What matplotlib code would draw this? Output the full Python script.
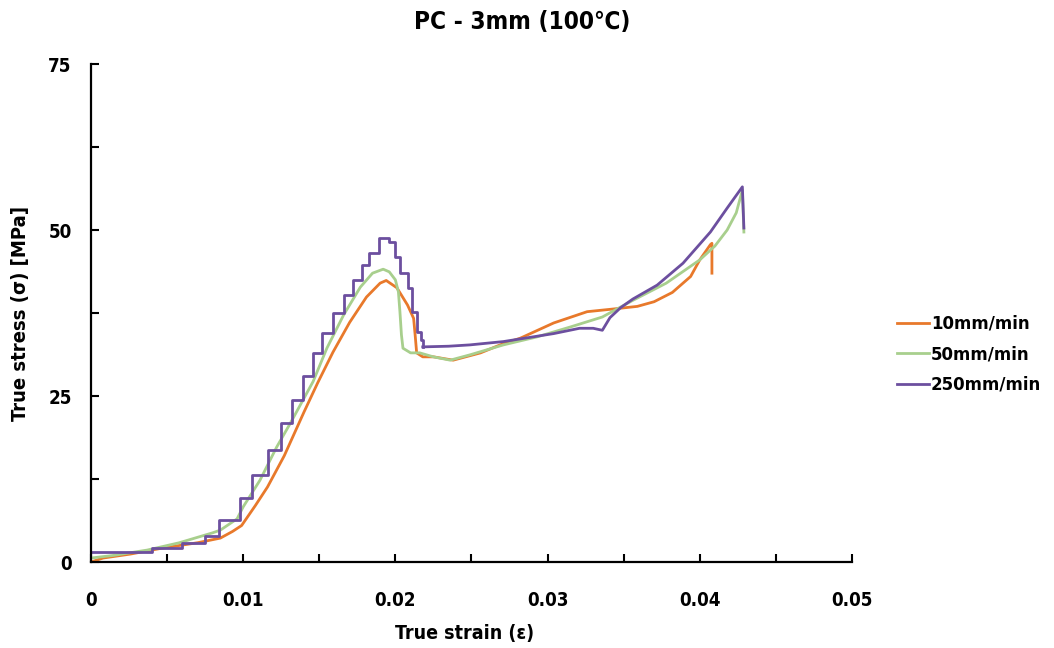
import numpy as np
import matplotlib
matplotlib.use("Agg")
import matplotlib.pyplot as plt

# condensed bold face for title, axis titles and tick labels
narrow = dict(family=['Liberation Sans Narrow', 'DejaVu Sans'], fontstretch='condensed',
              fontweight='bold')

# 10mm/min (orange)
x10 = [0, 0.0008, 0.0026, 0.0047, 0.0070, 0.0085, 0.0093, 0.0099, 0.0108, 0.0116,
       0.0127, 0.0140, 0.0149, 0.0159, 0.0170, 0.0181, 0.0190, 0.0194, 0.0201, 0.0208,
       0.0212, 0.0213, 0.0214, 0.0218, 0.0225, 0.0238, 0.0256, 0.0271, 0.0282, 0.0304,
       0.0326, 0.0343, 0.0359, 0.0370, 0.0382, 0.0394, 0.0400, 0.0407, 0.0408, 0.0408]
y10 = [0, 0.6, 1.2, 2.1, 2.9, 3.6, 4.6, 5.5, 8.5, 11.3,
       16.0, 22.6, 27.0, 31.6, 36.1, 39.9, 42.0, 42.4, 41.3, 38.7,
       36.7, 34.2, 31.5, 30.9, 30.9, 30.4, 31.5, 32.9, 33.7, 36.0,
       37.7, 38.1, 38.5, 39.2, 40.6, 43.0, 45.5, 47.8, 48.0, 43.5]

# 50mm/min (green)
x50 = [0, 0.0015, 0.0037, 0.0058, 0.0080, 0.0085, 0.0096, 0.0100, 0.0111, 0.0122,
       0.0131, 0.0146, 0.0155, 0.0166, 0.0177, 0.0185, 0.0192, 0.0196, 0.0200, 0.0202,
       0.0203, 0.0204, 0.0205, 0.0210, 0.0216, 0.0225, 0.0236, 0.0249, 0.0271, 0.0293,
       0.0315, 0.0336, 0.0356, 0.0378, 0.0400, 0.0410, 0.0418, 0.0424, 0.0428, 0.0429]
y50 = [0.6, 1.0, 1.8, 2.9, 4.4, 4.8, 6.5, 8.3, 12.3, 17.3,
       20.9, 27.2, 32.2, 37.2, 41.4, 43.5, 44.1, 43.7, 42.5, 40.7,
       37.7, 34.2, 32.2, 31.5, 31.5, 30.9, 30.4, 31.2, 32.7, 33.9,
       35.4, 36.9, 39.4, 42.0, 45.5, 47.6, 50.0, 52.6, 56.0, 49.7]

# 250mm/min (purple) - stepped part up to the yield drop
x250_steps = [0, 0.0040, 0.0060, 0.0075, 0.0084, 0.0098, 0.0106, 0.0116, 0.0125, 0.0132,
              0.0139, 0.0146, 0.0152, 0.0159, 0.0166, 0.0172, 0.0178, 0.0183, 0.0189, 0.0196,
              0.0200, 0.0203, 0.0208, 0.0211, 0.0214, 0.0217, 0.0218]
y250_steps = [1.5, 2.1, 2.9, 3.9, 6.3, 9.6, 13.1, 16.9, 20.9, 24.4,
              28.0, 31.5, 34.5, 37.5, 40.2, 42.5, 44.7, 46.5, 48.8, 48.2,
              45.9, 43.5, 41.3, 37.7, 34.6, 33.4, 32.4]
# 250mm/min (purple) - rest of the curve
x250 = [0.0218, 0.0235, 0.0249, 0.0271, 0.0282, 0.0304, 0.0321, 0.0330, 0.0336, 0.0341,
        0.0348, 0.0356, 0.0372, 0.0389, 0.0407, 0.0418, 0.0428, 0.0429]
y250 = [32.4, 32.5, 32.7, 33.2, 33.6, 34.4, 35.2, 35.2, 34.9, 36.8,
        38.3, 39.6, 41.7, 45.0, 49.7, 53.3, 56.5, 50.3]

xticks = [0, 0.01, 0.02, 0.03, 0.04, 0.05]
xticklabels = ['0', '0.01', '0.02', '0.03', '0.04', '0.05']
xminor = [0.005, 0.015, 0.025, 0.035, 0.045]
yticks = [0, 25, 50, 75]
yminor = [12.5, 37.5, 62.5]

c10, c50, c250 = '#E8792B', '#A8CF8D', '#6C4F9F'

fig = plt.figure(figsize=(10.54, 6.48), dpi=100)
ax = fig.add_axes([0.0863, 0.1327, 0.7220, 0.7685])

ax.plot(x10, y10, color=c10, lw=2, label='10mm/min')
ax.plot(x50, y50, color=c50, lw=2, label='50mm/min')
ax.plot(x250_steps, y250_steps, color=c250, lw=2, drawstyle='steps-post', label='250mm/min')
ax.plot(x250, y250, color=c250, lw=2)

ax.set_xlim(0, 0.05)
ax.set_ylim(0, 75)
ax.set_xticks(xticks, xticklabels)
ax.set_xticks(xminor, minor=True)
ax.set_yticks(yticks, [str(v) for v in yticks])
ax.set_yticks(yminor, minor=True)

for s in ['top', 'right']:
    ax.spines[s].set_visible(False)
for s in ['left', 'bottom']:
    ax.spines[s].set_linewidth(1.6)

ax.tick_params(which='both', direction='in', length=6, width=1.5)
ax.tick_params(axis='x', which='major', pad=21)
ax.tick_params(axis='y', which='major', pad=14)
for lab in ax.get_xticklabels() + ax.get_yticklabels():
    lab.set(fontsize=13.5, **narrow)

fig.text(0.495, 0.966, 'PC - 3mm (100℃)', ha='center', va='center', fontsize=17.5, **narrow)
fig.text(0.441, 0.022, 'True strain (ε)', ha='center', va='center', fontsize=14, **narrow)
fig.text(0.019, 0.516, 'True stress (σ) [MPa]', ha='center', va='center', rotation=90,
         fontsize=14.5, **narrow)

fig.legend(loc='center left', bbox_to_anchor=(0.851, 0.4537), frameon=False,
           borderpad=0, borderaxespad=0, handlelength=1.9, handletextpad=0.15,
           labelspacing=0.75, prop={'family': 'DejaVu Sans', 'weight': 'bold', 'size': 12})

plt.savefig('out.png', dpi=100)
